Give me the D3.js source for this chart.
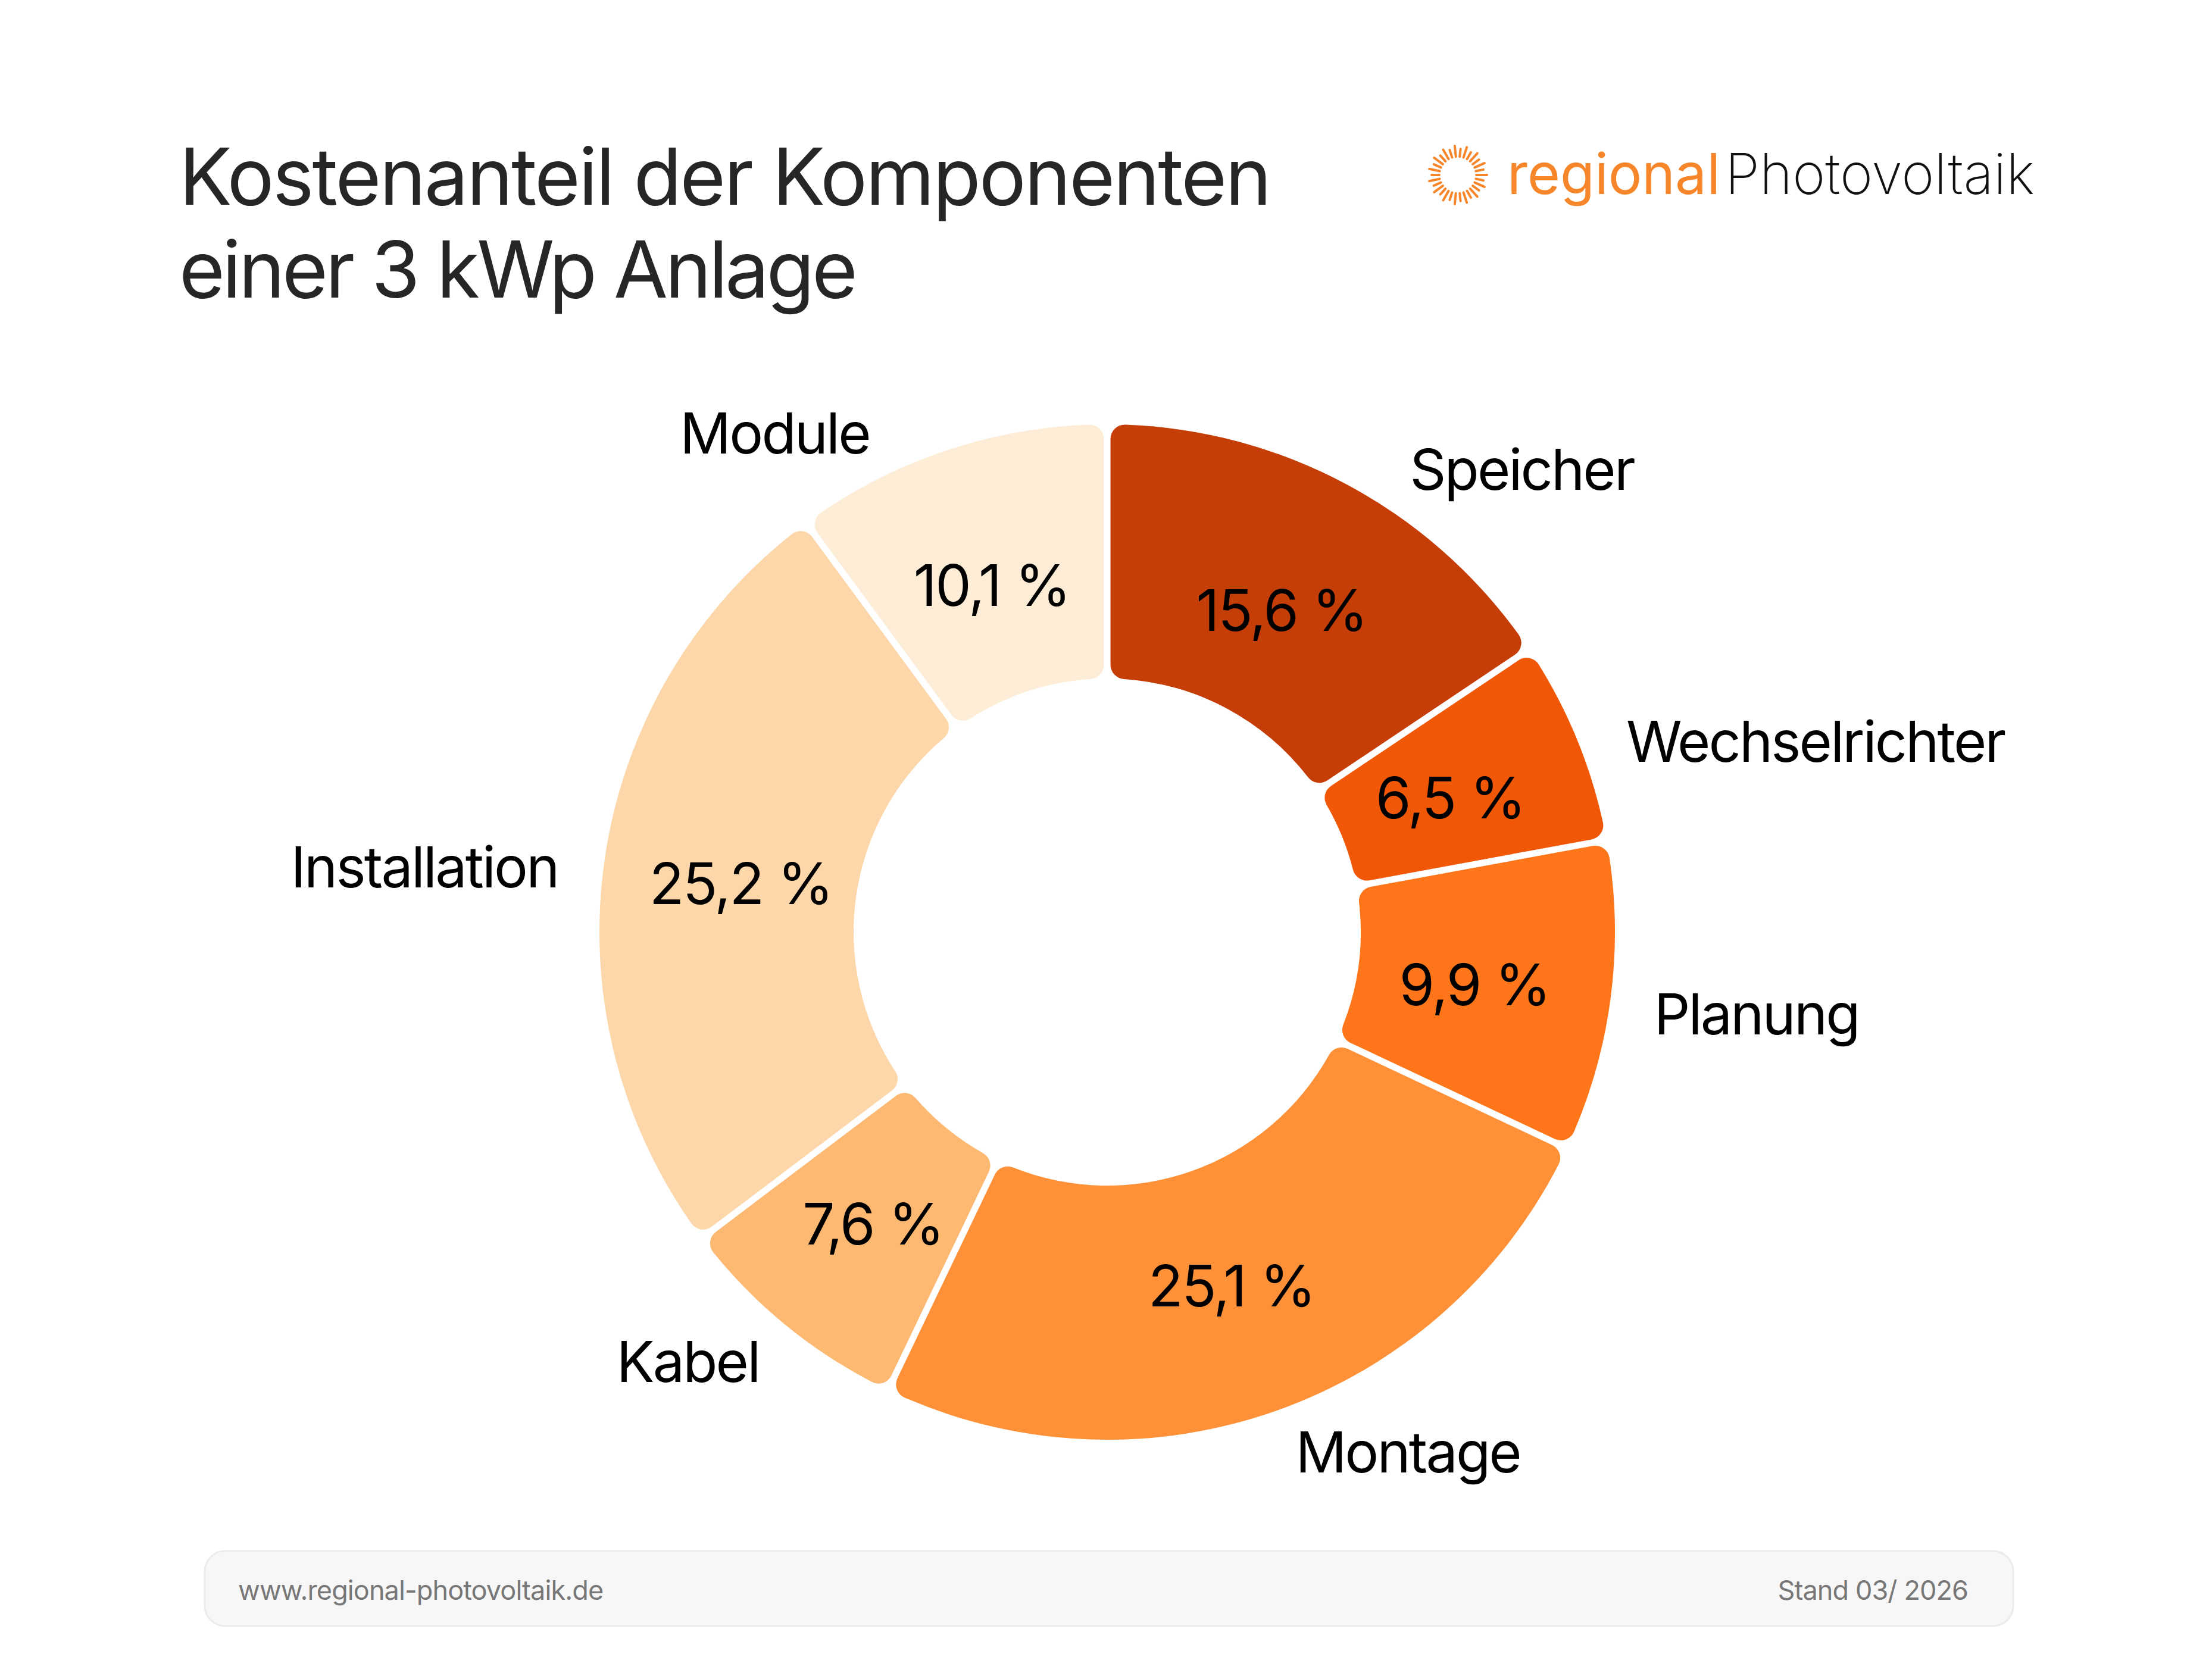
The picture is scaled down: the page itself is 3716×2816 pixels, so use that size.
<!DOCTYPE html>
<html><head><meta charset="utf-8">
<script src="https://cdn.jsdelivr.net/npm/d3@7"></script>
<style>
html,body{margin:0;padding:0;background:#fff;}
svg{display:block;}
text{font-family:Inter,"Liberation Sans",sans-serif;}
</style></head>
<body>
<script>
const categories = ["Speicher","Wechselrichter","Planung","Montage","Kabel","Installation","Module"];
const values = [15.6, 6.5, 9.9, 25.1, 7.6, 25.2, 10.1];
const valueLabels = ["15,6 %","6,5 %","9,9 %","25,1 %","7,6 %","25,2 %","10,1 %"];
const colors = ["#c53e07","#f05707","#fe7619","#fe9138","#fdb872","#fdd7a9","#feedd6"];
const titleLines = ["Kostenanteil der Komponenten","einer 3 kWp Anlage"];
const footerLeft = "www.regional-photovoltaik.de";
const footerRight = "Stand 03/ 2026";

const W = 3716, H = 2816;
const svg = d3.select("body").append("svg").attr("width", W).attr("height", H);
svg.append("rect").attr("width", W).attr("height", H).attr("fill", "#fff");

// Title
svg.append("g").selectAll("text").data(titleLines).join("text")
  .attr("x", 301).attr("y", (d,i) => 344 + i*156)
  .attr("font-size", 132).attr("fill", "#262626")
  .attr("letter-spacing", (d,i) => i === 0 ? "-0.022em" : "-0.035em")
  .text(d => d);

// Logo
const logo = svg.append("g").attr("transform", "translate(2449,294)");
const nRays = 30;
logo.selectAll("line").data(d3.range(nRays)).join("line")
  .attr("x1", i => 31*Math.cos(i/nRays*2*Math.PI))
  .attr("y1", i => 31*Math.sin(i/nRays*2*Math.PI))
  .attr("x2", i => (i%2 ? 44 : 49)*Math.cos(i/nRays*2*Math.PI))
  .attr("y2", i => (i%2 ? 44 : 49)*Math.sin(i/nRays*2*Math.PI))
  .attr("stroke", "#f7862a").attr("stroke-width", 4).attr("stroke-linecap","round");
svg.append("text").attr("x", 2532).attr("y", 326).attr("font-size", 95)
  .attr("fill", "#f7862a").attr("textLength", 358).attr("lengthAdjust","spacingAndGlyphs")
  .text("regional");
svg.append("text").attr("x", 2898).attr("y", 326).attr("font-size", 95).attr("font-weight", 200)
  .attr("fill", "#111").attr("textLength", 520).attr("lengthAdjust","spacingAndGlyphs")
  .text("Photovoltaik");

// Donut
const cx = 1860, cy = 1566, rOuter = 853, rInner = 426;
const data = categories.map((c,i) => ({cat:c, value:values[i], label:valueLabels[i], color:colors[i]}));
const pie = d3.pie().value(d => d.value).sort(null);
const arcs = pie(data);
const arc = d3.arc().innerRadius(rInner).outerRadius(rOuter)
  .cornerRadius(24).padAngle(0.013).padRadius(rOuter);
const g = svg.append("g").attr("transform", `translate(${cx},${cy})`);
g.selectAll("path").data(arcs).join("path")
  .attr("d", arc).attr("fill", d => d.data.color);

// value labels
const labelArc = d3.arc().innerRadius(622).outerRadius(622);
g.selectAll("text.val").data(arcs).join("text").attr("class","val")
  .attr("transform", d => { const c = labelArc.centroid(d); return `translate(${c[0]},${c[1] + 8})`; })
  .attr("text-anchor","middle").attr("dominant-baseline","central")
  .attr("font-size", 96).attr("fill", "#000").attr("letter-spacing","-0.025em")
  .text(d => d.data.label);

// outer category labels
const Rl = 905, R2 = 929, yShift = 21;
g.selectAll("text.cat").data(arcs).join("text").attr("class","cat")
  .each(function(d){
    const mid = (d.startAngle + d.endAngle)/2;
    const y = -Rl*Math.cos(mid) + yShift;
    const right = Math.sin(mid) > 0;
    const x = (right ? 1 : -1) * Math.sqrt(Math.max(0, R2*R2 - y*y));
    d3.select(this).attr("x", x).attr("y", y)
      .attr("text-anchor", right ? "start" : "end");
  })
  .attr("dominant-baseline","central")
  .attr("font-size", 95).attr("fill", "#000").attr("letter-spacing","-0.03em")
  .text(d => d.data.cat);

// Footer
svg.append("rect").attr("x", 344).attr("y", 2606).attr("width", 3038).attr("height", 126)
  .attr("rx", 34).attr("fill", "#f7f7f7").attr("stroke", "#ebebeb").attr("stroke-width", 3);
svg.append("text").attr("x", 400).attr("y", 2688).attr("font-size", 45).attr("fill", "#777")
  .attr("letter-spacing","-0.02em").text(footerLeft);
svg.append("text").attr("x", 3306).attr("y", 2688).attr("font-size", 45).attr("fill", "#777")
  .attr("text-anchor","end").attr("letter-spacing","-0.02em").text(footerRight);
</script>
</body></html>
